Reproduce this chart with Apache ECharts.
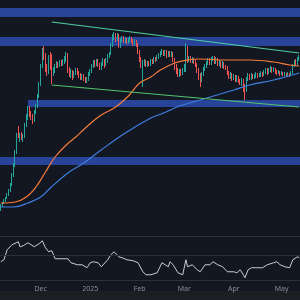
<!DOCTYPE html>
<html><head><meta charset="utf-8">
<script src="https://cdn.jsdelivr.net/npm/echarts@6/dist/echarts.min.js"></script>
<style>html,body{margin:0;padding:0;background:#131722}#c{width:300px;height:300px}</style>
</head><body><div id="c"></div>
<script>
// ---- data ----
const startDate = [2024, 10, 6]; // 2024-11-06 (UTC, month 0-based)
const dayCount = 188;
const monthNames = ['2025','Feb','Mar','Apr','May','Jun','Jul','Aug','Sep','Oct','Nov','Dec'];
// [open, close, low, high]
const candles = [
[0.40,0.45,0.39,0.46],[0.45,0.47,0.43,0.48],[0.47,0.50,0.46,0.51],[0.50,0.52,0.48,0.53],[0.52,0.55,0.51,0.57],
[0.55,0.60,0.54,0.61],[0.60,0.65,0.58,0.67],[0.65,0.75,0.64,0.77],[0.75,0.85,0.73,0.87],[0.85,0.98,0.83,1.00],
[0.98,1.15,0.96,1.17],[1.15,1.13,1.12,1.24],[1.13,1.15,1.08,1.17],[1.15,1.12,1.10,1.18],[1.12,1.14,1.08,1.16],
[1.14,1.25,1.12,1.27],[1.25,1.33,1.23,1.36],[1.33,1.40,1.30,1.44],[1.40,1.36,1.33,1.44],[1.36,1.33,1.30,1.39],
[1.33,1.30,1.26,1.36],[1.30,1.38,1.28,1.40],[1.38,1.44,1.36,1.46],[1.44,1.54,1.42,1.56],[1.54,1.66,1.52,1.68],
[1.66,1.84,1.64,1.86],[1.84,1.98,1.82,2.02],[1.98,1.95,1.90,2.04],[1.95,1.82,1.78,1.97],[1.82,1.78,1.74,1.86],
[1.78,1.93,1.76,1.95],[1.93,1.90,1.80,1.98],[1.90,1.76,1.66,1.96],[1.76,1.80,1.74,1.83],[1.80,1.84,1.77,1.86],
[1.84,1.86,1.82,1.89],[1.86,1.85,1.82,1.88],[1.85,1.88,1.83,1.90],[1.88,1.86,1.84,1.90],[1.86,1.89,1.84,1.91],
[1.89,1.91,1.86,1.94],[1.91,1.94,1.88,1.98],[1.94,1.80,1.77,1.97],[1.80,1.76,1.73,1.83],[1.76,1.79,1.72,1.81],
[1.79,1.74,1.70,1.80],[1.74,1.77,1.72,1.79],[1.77,1.80,1.75,1.82],[1.80,1.77,1.75,1.82],[1.77,1.75,1.72,1.79],
[1.75,1.72,1.70,1.77],[1.72,1.74,1.70,1.76],[1.74,1.71,1.69,1.76],[1.71,1.69,1.67,1.73],[1.69,1.71,1.67,1.73],
[1.71,1.76,1.69,1.78],[1.76,1.79,1.74,1.81],[1.79,1.84,1.77,1.86],[1.84,1.88,1.82,1.90],[1.88,1.86,1.83,1.90],
[1.86,1.89,1.84,1.91],[1.89,1.85,1.83,1.91],[1.85,1.83,1.80,1.87],[1.83,1.86,1.80,1.88],[1.86,1.90,1.84,1.92],
[1.90,1.85,1.82,1.91],[1.85,1.89,1.84,1.92],[1.89,1.94,1.87,1.96],[1.94,1.96,1.92,1.98],[1.96,2.05,1.95,2.07],
[2.05,2.13,2.03,2.16],[2.13,2.15,2.10,2.18],[2.15,2.11,2.08,2.17],[2.11,2.14,2.09,2.17],[2.14,2.03,2.02,2.16],
[2.03,2.10,2.02,2.12],[2.10,2.12,2.08,2.14],[2.12,2.09,2.07,2.14],[2.09,2.11,2.07,2.13],[2.11,2.08,2.06,2.12],
[2.08,2.10,2.06,2.12],[2.10,2.12,2.08,2.14],[2.12,2.09,2.07,2.13],[2.09,2.06,2.04,2.11],[2.06,2.09,2.04,2.11],
[2.09,2.05,2.03,2.10],[2.05,1.98,1.96,2.07],[1.98,1.90,1.88,2.00],[1.90,1.85,1.82,1.93],[1.85,1.87,1.63,1.90],
[1.87,1.89,1.84,1.91],[1.89,1.85,1.83,1.90],[1.85,1.87,1.83,1.89],[1.87,1.86,1.84,1.89],[1.86,1.89,1.84,1.91],
[1.89,1.88,1.86,1.91],[1.88,1.91,1.86,1.93],[1.91,1.90,1.88,1.93],[1.90,1.93,1.89,1.95],[1.93,1.95,1.91,1.97],
[1.95,1.97,1.93,1.99],[1.97,1.99,1.95,2.01],[1.99,1.96,1.94,2.00],[1.96,1.98,1.94,2.00],[1.98,1.94,1.92,2.00],
[1.94,1.97,1.93,1.99],[1.97,1.95,1.93,1.99],[1.95,1.97,1.93,1.99],[1.97,1.90,1.88,1.98],[1.90,1.84,1.80,1.92],
[1.84,1.80,1.76,1.86],[1.80,1.76,1.73,1.82],[1.76,1.79,1.73,1.81],[1.79,1.77,1.74,1.81],[1.77,1.80,1.75,1.82],
[1.80,1.84,1.78,1.86],[1.84,2.02,1.78,2.07],[2.02,1.90,1.87,2.04],[1.90,1.92,1.88,1.94],[1.92,1.89,1.87,1.94],
[1.89,1.91,1.87,1.93],[1.91,1.88,1.86,1.92],[1.88,1.85,1.83,1.90],[1.85,1.80,1.77,1.87],[1.80,1.74,1.70,1.82],
[1.74,1.72,1.63,1.77],[1.72,1.76,1.68,1.78],[1.76,1.81,1.74,1.83],[1.81,1.84,1.79,1.86],[1.84,1.87,1.82,1.89],
[1.87,1.90,1.85,1.92],[1.90,1.87,1.85,1.92],[1.87,1.91,1.85,1.93],[1.91,1.92,1.89,1.94],[1.92,1.88,1.86,1.94],
[1.88,1.91,1.86,1.93],[1.91,1.86,1.84,1.92],[1.86,1.88,1.84,1.90],[1.88,1.84,1.82,1.89],[1.84,1.87,1.82,1.89],
[1.87,1.83,1.81,1.88],[1.83,1.82,1.80,1.85],[1.82,1.77,1.75,1.84],[1.77,1.73,1.71,1.79],[1.73,1.76,1.71,1.78],
[1.76,1.72,1.69,1.77],[1.72,1.74,1.70,1.76],[1.74,1.70,1.68,1.75],[1.70,1.73,1.68,1.75],[1.73,1.69,1.67,1.74],
[1.69,1.67,1.65,1.71],[1.67,1.70,1.64,1.72],[1.70,1.64,1.58,1.71],[1.64,1.63,1.50,1.66],[1.63,1.71,1.58,1.73],
[1.71,1.74,1.69,1.77],[1.74,1.72,1.70,1.76],[1.72,1.75,1.70,1.77],[1.75,1.73,1.71,1.76],[1.73,1.74,1.71,1.76],
[1.74,1.76,1.72,1.78],[1.76,1.74,1.72,1.77],[1.74,1.75,1.73,1.77],[1.75,1.77,1.73,1.79],[1.77,1.75,1.73,1.78],
[1.75,1.78,1.74,1.80],[1.78,1.80,1.76,1.82],[1.80,1.77,1.75,1.82],[1.77,1.80,1.76,1.82],[1.80,1.82,1.78,1.84],
[1.82,1.79,1.77,1.83],[1.79,1.81,1.78,1.83],[1.81,1.78,1.76,1.82],[1.78,1.77,1.75,1.80],[1.77,1.78,1.76,1.80],
[1.78,1.76,1.74,1.79],[1.76,1.77,1.75,1.79],[1.77,1.75,1.74,1.78],[1.75,1.76,1.74,1.78],[1.76,1.74,1.73,1.77],
[1.74,1.76,1.73,1.78],[1.76,1.75,1.73,1.77],[1.75,1.77,1.74,1.79],[1.77,1.84,1.76,1.86],[1.84,1.88,1.83,1.90],
[1.88,1.86,1.84,1.91],[1.86,1.91,1.85,1.93],[1.91,1.92,1.89,1.95]
];
// moving averages: [day index, value]
const maFast = [[0,0.47],[9,0.48],[16,0.53],[22,0.63],[28,0.78],[34,0.93],[41,1.05],[47,1.13],[53,1.22],[62,1.34],
  [72,1.43],[80,1.54],[87,1.67],[94,1.73],[100,1.80],[109,1.87],[117,1.90],[125,1.91],[141,1.90],[156,1.90],[171,1.88],[181,1.85],[187,1.84]];
const maSlow = [[0,0.43],[8,0.43],[17,0.47],[25,0.53],[31,0.62],[42,0.77],[52,0.87],[62,0.99],[78,1.17],[94,1.32],
  [102,1.37],[112,1.44],[125,1.50],[146,1.60],[156,1.65],[171,1.70],[187,1.77]];
const upperTrend = [[32,2.28],[187,1.97]];
const lowerTrend = [[32,1.65],[187,1.43]];
// zones: [top, bottom, start day index]
const zones = [[2.42,2.33,0],[2.13,2.04,0],[1.50,1.43,17],[0.93,0.85,0]];
const rsi = [[0,58.8],[2,62],[4,78],[7,86],[11,90.8],[12,82.8],[14,84.4],[17,89.2],[19,86],[21,82.8],[24,87.6],[26,92.4],
  [28,81.2],[30,74.8],[32,76.4],[34,63.6],[36,63.6],[42,63.6],[44,57.2],[48,54],[51,54],[54,49.2],[56,57.2],[58,58.8],
  [61,57.2],[63,50.8],[64,54],[67,62],[69,70],[71,74.8],[72,74.8],[74,66.8],[76,65.2],[79,62],[83,60.4],[86,57.2],
  [89,42.8],[91,38],[92,34.8],[94,38],[98,41.2],[101,57.2],[103,54],[105,50.8],[106,58.8],[108,54],[111,41.2],[112,41.2],
  [114,38],[116,62],[117,50.8],[120,54],[123,46],[125,42.8],[128,54],[131,54],[133,58.8],[136,54],[139,50.8],[142,42.8],
  [146,42.8],[148,41.2],[150,46],[152,38],[153,33.2],[155,46],[157,49.2],[161,49.2],[164,49.2],[167,54],[171,57.2],
  [173,58.8],[175,54],[178,50.8],[181,49.2],[183,62],[186,66.8],[187,65.2]];
const rsiLevels = [100, 70, 30];

// ---- build ----
const dates = [];
const d0 = Date.UTC(startDate[0], startDate[1], startDate[2]);
for (let i = 0; i < dayCount; i++) dates.push(new Date(d0 + i * 864e5).toISOString().slice(0, 10));

const chart = echarts.init(document.getElementById('c'), null, {renderer: 'canvas'});
const hiddenAxis = {axisLine:{show:false}, axisTick:{show:false}, axisLabel:{show:false}, splitLine:{show:false}};
chart.setOption({
  animation: false,
  backgroundColor: '#131722',
  graphic: [{type:'rect', left:0, top:291, z:-10, shape:{width:300, height:9}, style:{fill:'#1d1e23'}, silent:true}],
  grid: [
    {left:0, right:0, top:0, height:230},
    {left:0, right:0, top:236, height:62.5}
  ],
  xAxis: [
    Object.assign({type:'category', data:dates, gridIndex:0, boundaryGap:true}, hiddenAxis),
    {type:'category', data:dates, gridIndex:1, boundaryGap:true,
     axisLine:{show:false}, axisTick:{show:false}, splitLine:{show:false},
     axisLabel:{inside:true, margin:6, fontSize:7, color:'#8a8d96', fontFamily:'Noto Sans',
       interval:(idx, val) => val.slice(8) === '01',
       formatter:(val) => monthNames[(+val.slice(5,7)) - 1]}}
  ],
  yAxis: [
    Object.assign({type:'value', gridIndex:0, min:0.2, max:2.5, scale:true}, hiddenAxis),
    Object.assign({type:'value', gridIndex:1, min:0, max:100}, hiddenAxis)
  ],
  series: [
    {type:'line', xAxisIndex:0, yAxisIndex:0, data:[], z:1, silent:true,
     markArea:{silent:true, itemStyle:{color:'#28449a'},
       data: zones.map(z => z[2] > 0
         ? [{xAxis:dates[z[2]], yAxis:z[0]}, {yAxis:z[1]}]
         : [{yAxis:z[0]}, {yAxis:z[1]}])}},
    {type:'candlestick', xAxisIndex:0, yAxisIndex:0, data:candles, z:3, barWidth:'70%',
     itemStyle:{color:'#26a69a', color0:'#ef5350', borderColor:'#26a69a', borderColor0:'#ef5350', borderWidth:1}},
    {type:'line', xAxisIndex:0, yAxisIndex:0, data:maFast, smooth:0.4, symbol:'none', z:4,
     lineStyle:{color:'#f57c3a', width:1.2}},
    {type:'line', xAxisIndex:0, yAxisIndex:0, data:maSlow, smooth:0.4, symbol:'none', z:4,
     lineStyle:{color:'#3f7fe0', width:1.2}},
    {type:'line', xAxisIndex:0, yAxisIndex:0, data:upperTrend, symbol:'none', z:5,
     lineStyle:{color:'#4fd1a0', width:1.2}},
    {type:'line', xAxisIndex:0, yAxisIndex:0, data:lowerTrend, symbol:'none', z:5,
     lineStyle:{color:'#55c46e', width:1.2}},
    {type:'line', xAxisIndex:1, yAxisIndex:1, data:rsi, symbol:'none', z:4,
     lineStyle:{color:'#c9ccd4', width:1},
     markLine:{silent:true, symbol:'none', label:{show:false}, lineStyle:{color:'#2c303b', width:1, type:'solid'},
       data: rsiLevels.map(v => ({yAxis:v}))}}
  ]
});
</script></body></html>
